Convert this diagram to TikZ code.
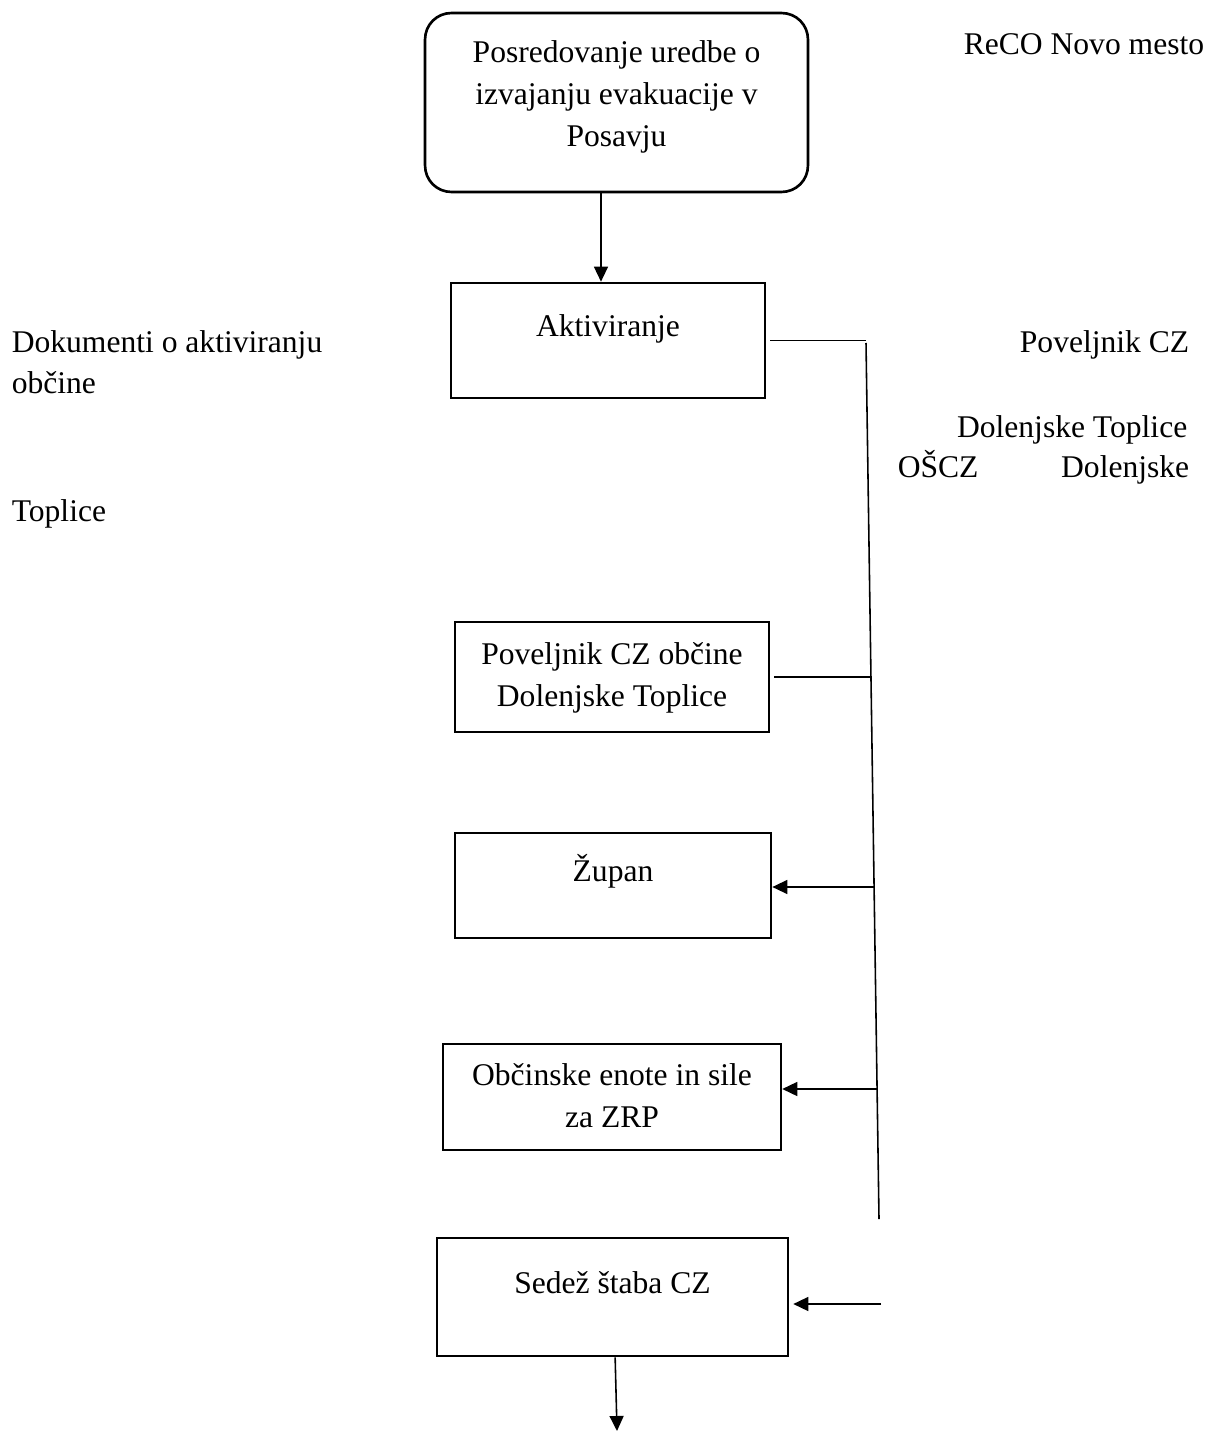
\documentclass[tikz,border=0pt]{standalone}
\usepackage{fontspec}
\setmainfont{Liberation Serif}
\usetikzlibrary{arrows.meta}

\tikzset{every picture/.style={line width=0.6pt}}
\tikzset{
  okvir/.style={draw, line width=1pt, inner sep=0pt},
  zaobljen/.style={okvir, rounded corners=10pt},
  besedilo/.style={inner sep=0pt, font=\fontsize{12pt}{15.6pt}\selectfont, align=center},
  puscica/.style={-{Triangle[length=5.7pt,width=5.3pt]}}
}

\begin{document}
\begin{tikzpicture}[x=0.38pt,y=0.38pt,yscale=-1,xscale=1]
\useasboundingbox (0,0) rectangle (1224,1432);

% Okvirji
\node[zaobljen, minimum width=145.5pt, minimum height=68pt] (reco) at (616.5,102.5) {};
\node[okvir, minimum width=119.3pt, minimum height=43.7pt] (akt) at (608,340.5) {};
\node[okvir, minimum width=119.3pt, minimum height=41.8pt] (pov) at (612,677) {};
\node[okvir, minimum width=120.1pt, minimum height=39.9pt] (zup) at (613,885.5) {};
\node[okvir, minimum width=128.4pt, minimum height=40.3pt] (obc) at (612,1097) {};
\node[okvir, minimum width=133.4pt, minimum height=44.8pt] (sed) at (612.5,1297) {};

% Besedilo v okvirjih (base = zadnja vrstica)
\node[besedilo, anchor=base, font=\fontsize{12pt}{16pt}\selectfont] (recoT) at (616.5,147) {Posredovanje uredbe o\\izvajanju evakuacije v\\Posavju};
\node[besedilo, anchor=base] (aktT) at (608,337) {Aktiviranje};
\node[besedilo, anchor=base] (povT) at (612,706) {Poveljnik CZ občine\\Dolenjske Toplice};
\node[besedilo, anchor=base] (zupT) at (613,881) {Župan};
\node[besedilo, anchor=base] (obcT) at (612,1127) {Občinske enote in sile\\za ZRP};
\node[besedilo, anchor=base] (sedT) at (612.5,1293) {Sedež štaba CZ};

% Besedilo ob strani
\node[besedilo, anchor=base west] (reconm) at (963,55) {ReCO Novo mesto};
\node[besedilo, anchor=base west, align=left] (dok) at (11,394) {Dokumenti o aktiviranju\\občine};
\node[besedilo, anchor=base west] (topl) at (11,522) {Toplice};
\node[besedilo, anchor=base east] (povR) at (1190,353) {Poveljnik CZ};
\node[besedilo, anchor=base east] (dolT) at (1188,438) {Dolenjske Toplice};
\node[besedilo, anchor=base west] (oscz) at (897,478) {OŠCZ};
\node[besedilo, anchor=base east] (dol) at (1190,478) {Dolenjske};

% Navpicna crta
\coordinate (vrh) at (866,343);
\coordinate (dno) at (879,1219);
\coordinate (b2) at (870,676);
\coordinate (b3) at (874,887);
\coordinate (b4) at (877,1089);
\coordinate (sedV) at (881,1304);
\coordinate (izhod) at (617,1431);
\draw (vrh) -- (dno);

% Povezave
\draw[puscica] ([xshift=-5.9pt]reco.south) -- ([xshift=-5.9pt]reco.south |- akt.north);
\draw ([xshift=1.5pt]akt.east) -- (akt.east -| vrh);
\draw ([xshift=1.5pt]pov.east) -- (pov.east -| b2);
\draw[puscica] (b3) -- (b3 -| zup.east);
\draw[puscica] (b4) -- (b4 -| obc.east);
\draw[puscica] (sedV) -- ([xshift=1.5pt]sedV -| sed.east);
\draw[puscica] ([xshift=1pt]sed.south) -- (izhod);

\end{tikzpicture}
\end{document}
